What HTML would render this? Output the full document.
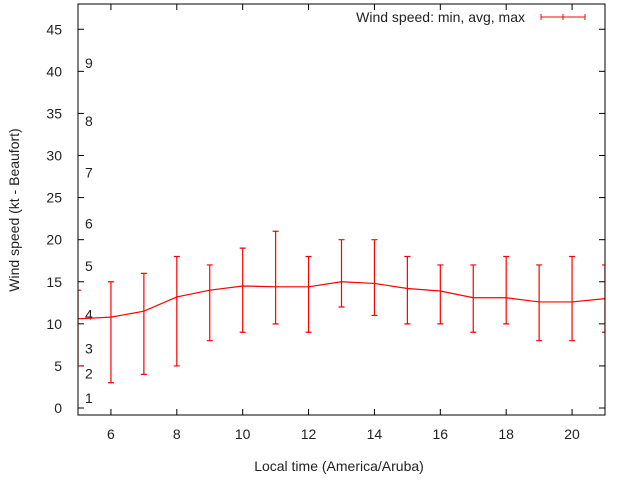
<!DOCTYPE html>
<html><head><meta charset="utf-8"><style>
body{margin:0;background:#fff;}
svg text{font-family:"Liberation Sans",sans-serif;font-size:14px;fill:#222;}
</style></head><body>
<svg id="chart" width="640" height="480" xmlns="http://www.w3.org/2000/svg">
<rect x="0" y="0" width="640" height="480" fill="#fff"/>
<g id="plot"></g>
</svg>
<script>
const hours=[5,6,7,8,9,10,11,12,13,14,15,16,17,18,19,20,21];
const avgSpeed=[10.6,10.8,11.5,13.2,14,14.5,14.4,14.4,15,14.8,14.2,13.9,13.1,13.1,12.6,12.6,13.0];
const minSpeed=[5,3,4,5,8,9,10,9,12,11,10,10,9,10,8,8,9];
const maxSpeed=[14,15,16,18,17,19,21,18,20,20,18,17,17,18,17,18,17];
const yTicks=[0,5,10,15,20,25,30,35,40,45];
const xTicks=[6,8,10,12,14,16,18,20];
const beaufortLabels=["1","2","3","4","5","6","7","8","9"];
const beaufortPos=[1.2,4.1,7.1,11.1,16.9,21.9,28,34.1,41];

const L=78,R=605,T=4,B=415;
const xMin=5,xMax=21,yMin=-0.83,yMax=48;
const X=v=>L+(v-xMin)/(xMax-xMin)*(R-L);
const Y=v=>B-(v-yMin)/(yMax-yMin)*(B-T);
const NS="http://www.w3.org/2000/svg";
const g=document.getElementById('plot');
function mk(tag,attrs,parent){const e=document.createElementNS(NS,tag);for(const k in attrs)e.setAttribute(k,attrs[k]);(parent||g).appendChild(e);return e;}

yTicks.forEach(v=>{
  const y=Y(v);
  const t=mk('line',{x1:L,x2:L+6,y1:y,y2:y,stroke:'#000'});
  
  
  const t2=mk('line',{x1:R-6,x2:R,y1:y,y2:y,stroke:'#000'});
  
  
  const lb=mk('text',{x:L-16,y:y+5,'text-anchor':'end'});
  lb.textContent=v;
  
  
});
xTicks.forEach(v=>{
  const x=X(v);
  const t=mk('line',{x1:x,x2:x,y1:B,y2:B-6,stroke:'#000'});
  
  
  const t2=mk('line',{x1:x,x2:x,y1:T,y2:T+6,stroke:'#000'});
  
  
  const lb=mk('text',{x:x,y:B+24,'text-anchor':'middle'});
  lb.textContent=v;
  
  
});
beaufortLabels.forEach((s,i)=>{
  const lb=mk('text',{x:85,y:Y(beaufortPos[i])+5});
  lb.textContent=s;
  
  
});

const clip=mk('clipPath',{id:'pc'});
mk('rect',{x:L,y:T,width:R-L,height:B-T},clip);
const dg=mk('g',{'clip-path':'url(#pc)'});
hours.forEach((h,i)=>{
  const x=X(h);
  const e=mk('path',{d:`M${x},${Y(minSpeed[i])}V${Y(maxSpeed[i])}M${x-3},${Y(minSpeed[i])}H${x+3}M${x-3},${Y(maxSpeed[i])}H${x+3}`,stroke:'#f00','stroke-width':1.2,fill:'none'},dg);
  
  
});
const line=mk('polyline',{points:hours.map((h,i)=>X(h)+','+Y(avgSpeed[i])).join(' '),stroke:'#f00','stroke-width':1.2,fill:'none'},dg);



const fr=mk('rect',{x:L,y:T,width:R-L,height:B-T,fill:'none',stroke:'#000'});



const leg=mk('text',{x:525,y:22,'text-anchor':'end'});
leg.textContent='Wind speed: min, avg, max';


const ls=mk('path',{d:'M541,17H585M541,14V20M563,14V20M585,14V20',stroke:'#f00','stroke-width':1,fill:'none'});



const xt=mk('text',{x:339,y:471,'text-anchor':'middle'});
xt.textContent='Local time (America/Aruba)';


const yt=mk('text',{x:19,y:210,'text-anchor':'middle',transform:'rotate(-90 19 210)'});
yt.textContent='Wind speed (kt - Beaufort)';


</script>
</body></html>
